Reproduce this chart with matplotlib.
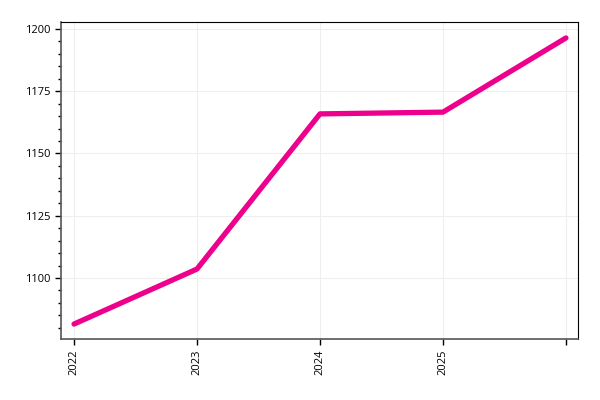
import matplotlib
matplotlib.use("Agg")
import matplotlib.pyplot as plt
from matplotlib.ticker import MultipleLocator

plt.rcParams["font.family"] = ["Open Sans", "DejaVu Sans"]

years = [2022, 2023, 2024, 2025, 2026]
values = [1081.5, 1103.6, 1165.9, 1166.6, 1196.4]
tick_labels = ["2022", "2023", "2024", "2025", ""]

fig = plt.figure(figsize=(6, 4), dpi=100)
ax = fig.add_axes([61 / 600, 1 - 339 / 400, 517 / 600, 317 / 400])

ax.plot(years, values, color="#EC008C", linewidth=3.8,
        solid_capstyle="round", solid_joinstyle="round", zorder=3)

ax.set_xlim(2021.894, 2026.098)
ax.set_ylim(1075.5, 1202.8)
ax.set_xticks(years)
ax.set_xticklabels(tick_labels, rotation=90, fontsize=8)
ax.yaxis.set_major_locator(MultipleLocator(25))
ax.yaxis.set_minor_locator(MultipleLocator(5))
ax.tick_params(axis="y", labelsize=8, length=4, width=1)
ax.tick_params(axis="y", which="minor", length=2, width=1)
ax.tick_params(axis="x", length=4, width=1)

ax.grid(True, color="#eeeeee", linewidth=0.8, zorder=0)
ax.set_axisbelow(True)
for side in ["top", "right"]:
    ax.spines[side].set_color("black")
for side in ["bottom", "left"]:
    ax.spines[side].set_color("#555555")
    ax.spines[side].set_linewidth(1.2)

fig.savefig("out.png", dpi=100)
